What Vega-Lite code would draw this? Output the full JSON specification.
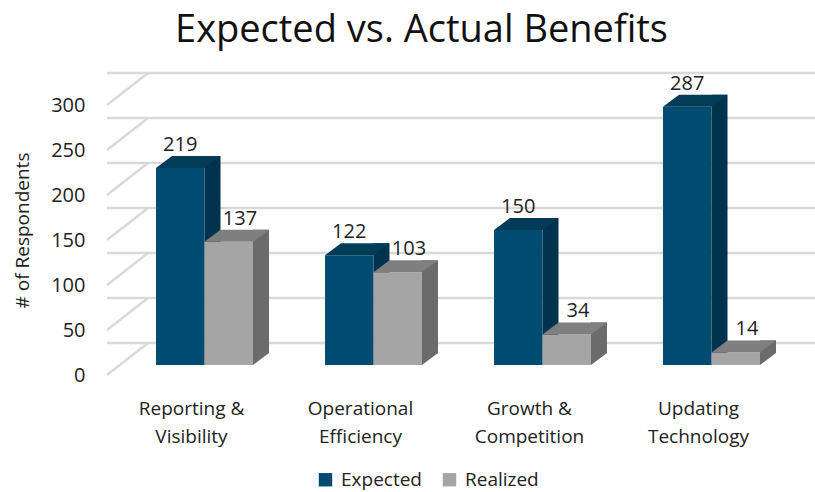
{
  "$schema": "https://vega.github.io/schema/vega-lite/v6.json",
  "width": 705,
  "height": 270,
  "autosize": {"type": "none"},
  "padding": {"left": 107, "top": 95, "right": 3, "bottom": 127},
  "background": "white",
  "config": {
    "view": {"stroke": null},
    "font": "Open Sans",
    "text": {"font": "Open Sans"},
    "axis": {"labelColor": "#222222", "titleColor": "#222222", "labelFont": "Open Sans", "titleFont": "Open Sans"},
    "legend": {"labelFont": "Open Sans", "labelColor": "#222222"}
  },
  "title": {
    "text": "Expected vs. Actual Benefits",
    "fontSize": 38,
    "fontWeight": "normal",
    "color": "#111111",
    "font": "Open Sans",
    "anchor": "middle",
    "frame": "group",
    "baseline": "alphabetic",
    "offset": -12,
    "dx": -38
  },
  "encoding": {
    "y": {
      "field": "value",
      "type": "quantitative",
      "scale": {"domain": [0, 300], "nice": false, "zero": true},
      "axis": {
        "values": [0, 50, 100, 150, 200, 250, 300],
        "title": "# of Respondents",
        "grid": false,
        "domain": false,
        "ticks": false,
        "labelFontSize": 20,
        "labelPadding": 22,
        "labelOffset": 10,
        "titleFontSize": 19,
        "titleFontWeight": "normal",
        "titlePadding": 18
      }
    }
  },
  "layer": [
    {
      "data": {"values": [{"value": 0}, {"value": 50}, {"value": 100}, {"value": 150}, {"value": 200}, {"value": 250}, {"value": 300}]},
      "layer": [
        {
          "mark": {"type": "rule", "color": "#d9d9d9", "strokeWidth": 2.5, "xOffset": 41, "yOffset": -22},
          "encoding": {}
        },
        {
          "mark": {"type": "point", "x": 0, "shape": "M 0 10 L 41 -22", "size": 4, "filled": false, "opacity": 1, "stroke": "#d9d9d9", "strokeWidth": 2.5},
          "encoding": {}
        }
      ]
    },
    {
      "data": {"values": [
        {"cat": "Reporting & Visibility", "series": "Expected", "value": 219},
        {"cat": "Reporting & Visibility", "series": "Realized", "value": 137},
        {"cat": "Operational Efficiency", "series": "Expected", "value": 122},
        {"cat": "Operational Efficiency", "series": "Realized", "value": 103},
        {"cat": "Growth & Competition", "series": "Expected", "value": 150},
        {"cat": "Growth & Competition", "series": "Realized", "value": 34},
        {"cat": "Updating Technology", "series": "Expected", "value": 287},
        {"cat": "Updating Technology", "series": "Realized", "value": 14}
      ]},
      "encoding": {
        "x": {
          "field": "cat",
          "type": "nominal",
          "sort": null,
          "scale": {"range": [0, 676], "paddingInner": 0, "paddingOuter": 0},
          "axis": {
            "title": null,
            "domain": false,
            "ticks": false,
            "labelAngle": 0,
            "labelFontSize": 19,
            "labelPadding": 34,
            "labelLineHeight": 28,
            "labelExpr": "split(replace(datum.label, regexp(' (?=[^ ]+$)'), '|'), '|')"
          }
        }
      },
      "resolve": {"scale": {"xOffset": "independent", "fill": "independent", "shape": "independent"}},
      "layer": [
        {
          "mark": {"type": "bar", "yOffset": -12, "y2Offset": -12},
          "encoding": {
            "xOffset": {"field": "series", "type": "nominal", "scale": {"range": [97.5, 162], "paddingInner": 0.6701, "paddingOuter": 0}},
            "fill": {"field": "series", "type": "nominal", "scale": {"domain": ["Expected", "Realized"], "range": ["#00344e", "#6b6b6b"]}, "legend": null}
          }
        },
        {
          "mark": {"type": "point", "size": 4, "filled": true, "opacity": 1, "strokeWidth": 0},
          "encoding": {
            "y": {"datum": 0},
            "shape": {"field": "series", "type": "nominal", "scale": {"domain": ["Expected", "Realized"], "range": ["M 13 0 L 13 -12 L 29 -12 Z", "M 61.5 0 L 61.5 -12 L 77.5 -12 Z"]}, "legend": null},
            "fill": {"field": "series", "type": "nominal", "scale": {"domain": ["Expected", "Realized"], "range": ["#00344e", "#6b6b6b"]}, "legend": null}
          }
        },
        {
          "mark": {"type": "bar"},
          "encoding": {
            "xOffset": {"field": "series", "type": "nominal", "scale": {"range": [49, 146], "paddingInner": 0, "paddingOuter": 0}},
            "color": {
              "field": "series",
              "type": "nominal",
              "scale": {"domain": ["Expected", "Realized"], "range": ["#004b70", "#a5a5a5"]},
              "legend": {
                "orient": "none",
                "legendX": 209,
                "legendY": 375,
                "direction": "horizontal",
                "title": null,
                "labelFontSize": 19,
                "symbolType": "square",
                "symbolSize": 180,
                "symbolStrokeWidth": 0,
                "columnPadding": 18,
                "labelOffset": 6
              }
            }
          }
        },
        {
          "mark": {"type": "point", "size": 4, "filled": true, "opacity": 1, "strokeWidth": 0},
          "encoding": {
            "shape": {"field": "series", "type": "nominal", "scale": {"domain": ["Expected", "Realized"], "range": ["M -35.5 0 L 13 0 L 29 -12 L -19.5 -12 Z", "M 13 0 L 61.5 0 L 77.5 -12 L 29 -12 Z"]}, "legend": null},
            "fill": {"field": "series", "type": "nominal", "scale": {"domain": ["Expected", "Realized"], "range": ["#003b58", "#7f7f7f"]}, "legend": null}
          }
        },
        {
          "mark": {"type": "text", "fontSize": 20, "color": "#222222", "baseline": "alphabetic", "dy": -17},
          "encoding": {
            "xOffset": {"field": "series", "type": "nominal", "scale": {"type": "point", "padding": 0, "range": [73.25, 133]}},
            "text": {"field": "value", "type": "quantitative"}
          }
        }
      ]
    }
  ]
}
